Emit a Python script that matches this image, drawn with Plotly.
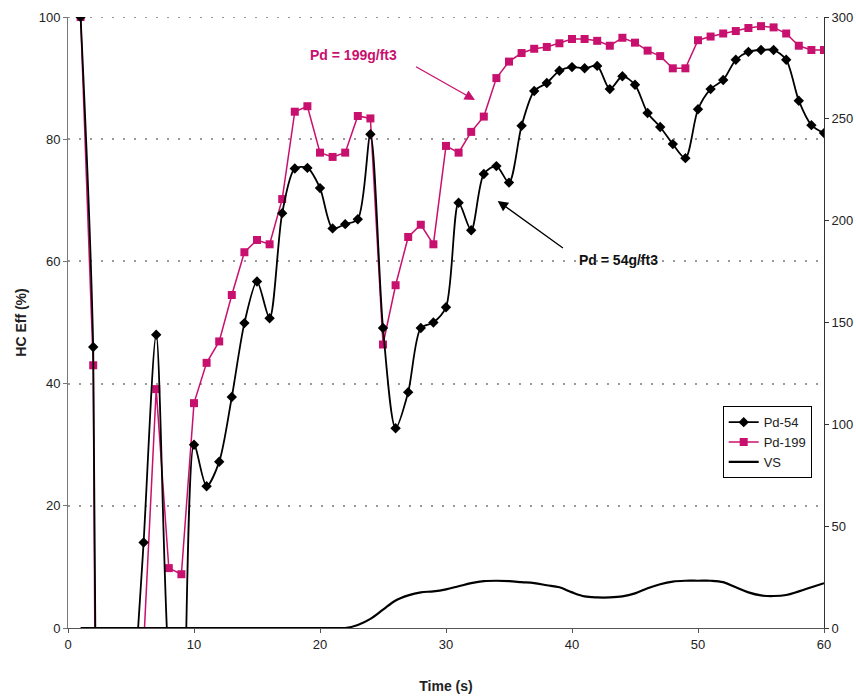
import plotly.graph_objects as go

time_s = list(range(1, 61))

pd54 = [100, 46, -240, -120, -21, 14, 48, -6, -22, 30,
        23.2, 27.2, 37.8, 49.9, 56.7, 50.7, 67.9, 75.2, 75.3, 72.0,
        65.4, 66.1, 66.9, 80.8, 49.1, 32.7, 38.6, 49.1, 50.0, 52.5,
        69.6, 65.1, 74.3, 75.6, 72.9, 82.2, 87.9, 89.2, 91.2, 91.8,
        91.6, 92.0, 88.2, 90.3, 88.9, 84.3, 82.0, 79.2, 76.9, 84.9,
        88.2, 89.7, 93.0, 94.3, 94.6, 94.6, 93.0, 86.3, 82.3, 81.0]

pd199 = [100, 43, -300, -150, -60, -3, 39.1, 9.8, 8.8, 36.8,
         43.4, 46.9, 54.5, 61.5, 63.5, 62.8, 70.2, 84.5, 85.4, 77.8,
         77.1, 77.8, 83.8, 83.4, 46.4, 56.1, 64.0, 66.0, 62.8, 78.9,
         77.8, 81.2, 83.7, 90.0, 92.7, 94.1, 94.8, 95.1, 95.7, 96.4,
         96.4, 96.1, 95.3, 96.6, 95.8, 94.5, 93.6, 91.6, 91.6, 96.2,
         96.8, 97.3, 97.7, 98.2, 98.5, 98.3, 97.3, 95.3, 94.6, 94.6]

vs = [0, 0, 0, 0, 0, 0, 0, 0, 0, 0,
      0, 0, 0, 0, 0, 0, 0, 0, 0, 0,
      0, 0, 1.5, 4.5, 9, 13.5, 16, 17.5, 18, 19,
      20.5, 22, 23, 23.2, 23, 22.5, 22, 21, 20, 17.5,
      15.5, 15, 15, 15.5, 17, 19.5, 21.5, 22.8, 23.2, 23.2,
      23.2, 22.5, 20, 17.5, 16, 15.7, 16.2, 18, 20, 22]

pink = "#C8106E"
font_family = "Liberation Sans Narrow, Liberation Sans, Arial"

fig = go.Figure()
fig.add_trace(go.Scatter(
    x=time_s, y=pd199, name="Pd-199", mode="lines+markers",
    line=dict(color=pink, width=1.5),
    marker=dict(symbol="square", size=8, color=pink),
    legendrank=2,
))
fig.add_trace(go.Scatter(
    x=time_s, y=pd54, name="Pd-54", mode="lines+markers",
    line=dict(color="black", width=1.8, shape="spline", smoothing=0.8),
    marker=dict(symbol="diamond", size=8, color="black"),
    legendrank=1,
))
fig.add_trace(go.Scatter(
    x=time_s, y=vs, name="VS", mode="lines", yaxis="y2",
    line=dict(color="black", width=2.2, shape="spline", smoothing=1),
    legendrank=3,
))

fig.update_layout(
    width=856, height=698,
    margin=dict(l=68, r=32, t=17, b=70),
    plot_bgcolor="white", paper_bgcolor="white",
    font=dict(family=font_family, size=13, color="#222"),
    showlegend=True,
    legend=dict(
        x=0.866, y=0.363, xanchor="left", yanchor="top",
        bordercolor="black", borderwidth=1, bgcolor="white",
        font=dict(size=13, color="#222"), traceorder="normal",
        tracegroupgap=0, itemwidth=30,
    ),
    xaxis=dict(
        range=[0, 60], dtick=10, tick0=0,
        showline=True, linecolor="#555", linewidth=1,
        ticks="outside", ticklen=4, tickcolor="#555",
        showgrid=False, zeroline=False, automargin=False,
        title=dict(text="<b>Time (s)</b>", font=dict(size=14, color="#222"), standoff=30),
    ),
    yaxis=dict(
        range=[0, 100], dtick=20,
        showline=True, linecolor="#777", linewidth=1,
        ticks="outside", ticklen=4, tickcolor="#777",
        showgrid=True, gridcolor="#999", griddash="2px,9px", gridwidth=2,
        zeroline=False, automargin=False,
        title=dict(text="<b>HC Eff (%)</b>", font=dict(size=14, color="#222"), standoff=8),
    ),
    yaxis2=dict(
        range=[0, 300], dtick=50, overlaying="y", side="right",
        showline=True, linecolor="#333", linewidth=1,
        ticks="outside", ticklen=4, tickcolor="#333",
        showgrid=False, zeroline=False, automargin=False,
    ),
)

# top gridline at 100 (plotly omits the grid at the range edge)
fig.add_shape(type="line", xref="paper", yref="y", x0=0, x1=1, y0=100, y1=100,
              line=dict(color="#999", width=2, dash="2px,9px"), layer="below")

fig.add_annotation(x=32.3, y=86.4, ax=27.5, ay=92.0, xref="x", yref="y",
                   axref="x", ayref="y", text="", showarrow=True,
                   arrowhead=2, arrowsize=1.6, arrowwidth=1.3, arrowcolor=pink)
fig.add_annotation(x=34.1, y=69.9, ax=39.4, ay=62.0, xref="x", yref="y",
                   axref="x", ayref="y", text="", showarrow=True,
                   arrowhead=2, arrowsize=1.6, arrowwidth=1.3, arrowcolor="black")
fig.add_annotation(x=22.66, y=93.8, xref="x", yref="y", text="<b>Pd = 199g/ft3</b>",
                   showarrow=False, font=dict(size=14, color=pink))
fig.add_annotation(x=43.7, y=60.2, xref="x", yref="y", text="<b>Pd = 54g/ft3</b>",
                   showarrow=False, font=dict(size=14, color="#111"))

fig.write_html("out.html")
